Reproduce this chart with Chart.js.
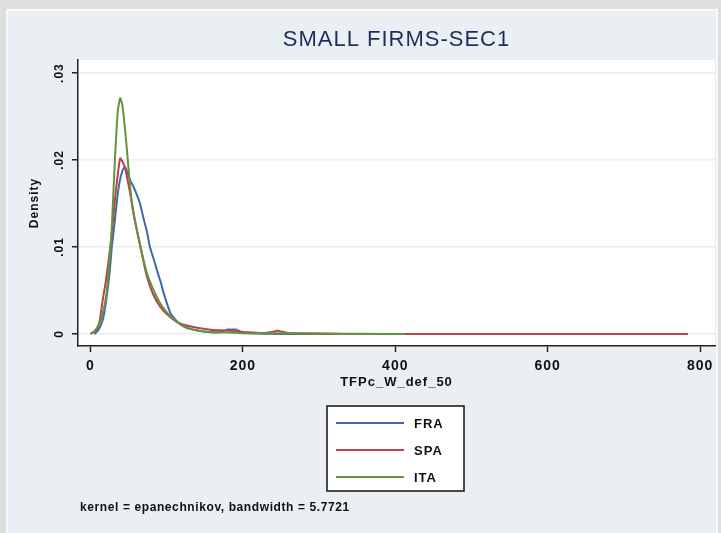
<!DOCTYPE html>
<html>
<head>
<meta charset="utf-8">
<title>SMALL FIRMS-SEC1</title>
<script src="https://cdn.jsdelivr.net/npm/chart.js@4.4.1/dist/chart.umd.min.js"></script>
<style>
    html, body { margin: 0; padding: 0; background: #dedede; }
    #wrap { width: 721px; height: 533px; position: relative; }
</style>
</head>
<body>
<div id="wrap"><canvas id="densityChart" width="721" height="533"></canvas></div>
<script>
// Kernel density estimates of TFPc_W_def_50, small firms, sector 1
const chartTitle = 'SMALL FIRMS-SEC1';
const xTitle = 'TFPc_W_def_50';
const yTitle = 'Density';
const noteText = 'kernel = epanechnikov, bandwidth = 5.7721';

const xTicks = [0, 200, 400, 600, 800];
const yTicks = [0, 0.01, 0.02, 0.03];
const yTickLabels = ['0', '.01', '.02', '.03'];

const countries = ['FRA', 'SPA', 'ITA'];

const fraX = [5, 10, 16, 20, 25, 28, 32, 35, 38, 42, 45, 48, 52, 56, 60, 65, 69, 74, 78, 83, 87, 92, 96, 100, 105, 112, 118, 126, 135, 146, 157, 170, 179, 185, 192, 198, 210, 250, 330, 413];
const fraY = [0, .0004, .0016, .0035, .0070, .0100, .0131, .0155, .0174, .0188, .0192, .0187, .0177, .0170, .0162, .0150, .0135, .0118, .0100, .0086, .0074, .0060, .0047, .0036, .0024, .0016, .0011, .0007, .0005, .0003, .0002, .0002, .0005, .0005, .0005, .0002, .0001, 0, 0, 0];

const spaX = [0, 8, 12, 16, 20, 25, 29, 32, 36, 39, 42, 45, 48, 52, 56, 60, 67, 74, 82, 91, 100, 113, 125, 135, 157, 179, 205, 225, 242, 246, 250, 260, 400, 600, 784];
const spaY = [0, .0005, .0015, .0039, .0060, .0093, .0125, .0154, .0185, .0202, .0198, .0192, .0180, .0162, .0142, .0123, .0094, .0066, .0046, .0032, .0023, .0014, .0010, .0008, .0005, .0004, .0002, .0001, .0003, .0004, .0003, .0001, 0, 0, 0];

const itaX = [0, 6, 12, 17, 21, 25, 28, 32, 36, 39, 42, 47, 52, 56, 60, 67, 74, 82, 91, 100, 113, 125, 135, 150, 170, 200, 260, 330, 413];
const itaY = [0, .0004, .0013, .0027, .0047, .0085, .0123, .0200, .0257, .0271, .0262, .0220, .0169, .0140, .0123, .0095, .0070, .0052, .0036, .0025, .0014, .0008, .0005, .0003, .0002, .0001, .0001, 0, 0];

const seriesColors = ['#3f6ba6', '#b9424e', '#65933d'];

const FONT = '"Liberation Sans", Arial, sans-serif';

function toPoints(xs, ys) {
    return xs.map((x, i) => ({ x: x, y: ys[i] }));
}

// Stata-like graph region, plot region, title, legend box and note
const stataFrame = {
    id: 'stataFrame',
    beforeDraw(chart) {
        const ctx = chart.ctx;
        const area = chart.chartArea;
        ctx.save();
        ctx.fillStyle = '#dedede';
        ctx.fillRect(0, 0, chart.width, chart.height);
        ctx.fillStyle = '#f6f9fa';
        ctx.fillRect(6, 9, 712, 524);
        ctx.fillStyle = '#e9eff2';
        ctx.fillRect(8, 11, 708, 522);
        ctx.fillStyle = '#ffffff';
        ctx.fillRect(area.left, area.top, area.right - area.left, area.bottom - area.top);
        ctx.restore();
        // wider spacing for the axis labels drawn next
        ctx.letterSpacing = '1px';
    },
    afterDraw(chart) {
        const ctx = chart.ctx;
        const area = chart.chartArea;
        ctx.save();
        ctx.letterSpacing = '1px';

        // title
        ctx.fillStyle = '#1d2d5c';
        ctx.font = '22px ' + FONT;
        ctx.textAlign = 'center';
        ctx.textBaseline = 'middle';
        ctx.fillText(chartTitle, (area.left + area.right) / 2, 40);

        // legend box
        const box = { left: 327, top: 406, width: 137, height: 85 };
        ctx.fillStyle = '#ffffff';
        ctx.fillRect(box.left, box.top, box.width, box.height);
        ctx.strokeStyle = '#111111';
        ctx.lineWidth = 1.5;
        ctx.strokeRect(box.left, box.top, box.width, box.height);
        ctx.font = 'bold 13px ' + FONT;
        ctx.textAlign = 'left';
        chart.data.datasets.forEach((ds, i) => {
            const y = box.top + 17 + i * 27;
            ctx.strokeStyle = ds.borderColor;
            ctx.lineWidth = 2;
            ctx.beginPath();
            ctx.moveTo(box.left + 9, y);
            ctx.lineTo(box.left + 77, y);
            ctx.stroke();
            ctx.fillStyle = '#111111';
            ctx.fillText(ds.label, box.left + 87, y + 1);
        });

        // note
        ctx.font = 'bold 12px ' + FONT;
        ctx.letterSpacing = '0.6px';
        ctx.fillText(noteText, 80, 508);
        ctx.restore();
        ctx.letterSpacing = '0px';
    }
};

function init() {
    const ctx = document.getElementById('densityChart').getContext('2d');
    new Chart(ctx, {
        type: 'line',
        data: {
            datasets: countries.map((name, i) => ({
                label: name,
                data: toPoints([fraX, spaX, itaX][i], [fraY, spaY, itaY][i]),
                borderColor: seriesColors[i],
                borderWidth: 2,
                pointRadius: 0,
                tension: 0.2,
                fill: false,
                order: countries.length - i
            }))
        },
        options: {
            responsive: false,
            animation: false,
            events: [],
            layout: { padding: { left: 27, top: 60, right: 6, bottom: 143 } },
            plugins: {
                legend: { display: false },
                title: { display: false },
                tooltip: { enabled: false }
            },
            scales: {
                x: {
                    type: 'linear',
                    min: -16.4,
                    max: 819.6,
                    afterBuildTicks: s => { s.ticks = xTicks.map(v => ({ value: v })); },
                    afterFit: s => { s.height = 44; },
                    grid: { drawOnChartArea: false, drawTicks: true, tickLength: 6, tickColor: '#222222', tickWidth: 1.5 },
                    border: { color: '#222222', width: 1.5 },
                    ticks: {
                        padding: 6,
                        color: '#111111',
                        font: { family: FONT, size: 14, weight: 'bold' },
                        maxRotation: 0,
                        callback: v => String(v)
                    },
                    title: {
                        display: true,
                        text: xTitle,
                        color: '#111111',
                        padding: 0,
                        font: { family: FONT, size: 13, weight: 'bold' }
                    }
                },
                y: {
                    type: 'linear',
                    min: -0.00138,
                    max: 0.0315,
                    afterBuildTicks: s => { s.ticks = yTicks.map(v => ({ value: v })); },
                    afterFit: s => { s.width = 51; },
                    grid: { color: '#e8eef1', lineWidth: 1.5, drawTicks: true, tickLength: 6, tickColor: '#222222', tickWidth: 1.5 },
                    border: { color: '#222222', width: 1.5 },
                    ticks: {
                        padding: 4,
                        color: '#111111',
                        crossAlign: 'center',
                        minRotation: 90,
                        maxRotation: 90,
                        font: { family: FONT, size: 12, weight: 'bold' },
                        callback: v => yTickLabels[yTicks.indexOf(v)]
                    },
                    title: {
                        display: true,
                        text: yTitle,
                        color: '#111111',
                        padding: 0,
                        font: { family: FONT, size: 12, weight: 'bold' }
                    }
                }
            }
        },
        plugins: [stataFrame]
    });
}

document.addEventListener('DOMContentLoaded', init);
</script>
</body>
</html>
